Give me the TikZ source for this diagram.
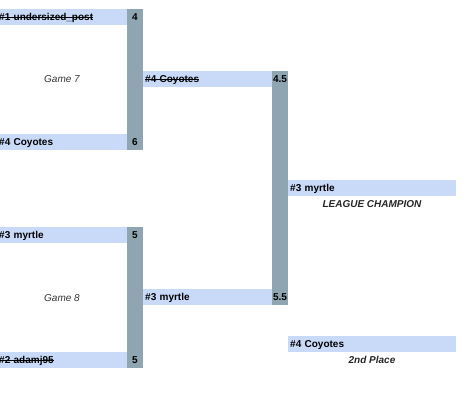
\documentclass[tikz,border=0pt]{standalone}
\usepackage{fontspec}
\setmainfont{Liberation Sans}
\newcommand\strk[1]{\setbox0\hbox{#1}\rlap{\rule[0.3em]{\wd0}{0.8pt}}\box0}
\definecolor{barblue}{HTML}{C9DAF8}
\definecolor{colgray}{HTML}{8FA5B1}
\definecolor{gametext}{HTML}{333333}
\begin{document}
\begin{tikzpicture}[x=1pt,y=-1pt,
  team/.style={fill=barblue, anchor=north west, minimum height=16pt, inner xsep=2pt, inner ysep=0pt, align=left, font=\bfseries\fontsize{10}{12}\selectfont, text depth=0pt},
  score/.style={font=\bfseries\fontsize{10}{12}\selectfont, inner sep=0pt},
  gamelabel/.style={font=\itshape\fontsize{10}{12}\selectfont, text=gametext},
  placelabel/.style={font=\bfseries\itshape\fontsize{10}{12}\selectfont, text=black!85},
]
\useasboundingbox (0,0) rectangle (474,405);
% gray columns
\fill[colgray] (127,9) rectangle (143,150);
\fill[colgray] (127,227) rectangle (143,368);
\fill[colgray] (272,71) rectangle (288,305);
% round 1, game 7
\node[team, minimum width=130pt, text width=126pt] (t1) at (-3,9) {\strk{\#1 undersized\_post}};
\node[team, minimum width=130pt, text width=126pt] (t4) at (-3,134) {\#4 Coyotes};
\node[score] (s1) at (135,17) {4};
\node[score] (s4) at (135,142) {6};
\node[gamelabel] (g7) at (62,79) {Game 7};
% round 1, game 8
\node[team, minimum width=130pt, text width=126pt] (t3) at (-3,227) {\#3 myrtle};
\node[team, minimum width=130pt, text width=126pt] (t2) at (-3,352) {\strk{\#2 adamj95}};
\node[score] (s3) at (135,235) {5};
\node[score] (s2) at (135,360) {5};
\node[gamelabel] (g8) at (62,298) {Game 8};
% round 2
\node[team, minimum width=129pt, text width=125pt] (r4) at (143,71) {\strk{\#4 Coyotes}};
\node[team, minimum width=129pt, text width=125pt] (r3) at (143,289) {\#3 myrtle};
\node[score] (rs4) at (280,79) {4.5};
\node[score] (rs3) at (280,297) {5.5};
% final
\node[team, minimum width=168pt, text width=164pt] (champ) at (288,180) {\#3 myrtle};
\node[placelabel] (champlbl) at (372,204) {LEAGUE CHAMPION};
\node[team, minimum width=168pt, text width=164pt] (second) at (288,336) {\#4 Coyotes};
\node[placelabel] (secondlbl) at (372,360) {2nd Place};
\end{tikzpicture}
\end{document}
